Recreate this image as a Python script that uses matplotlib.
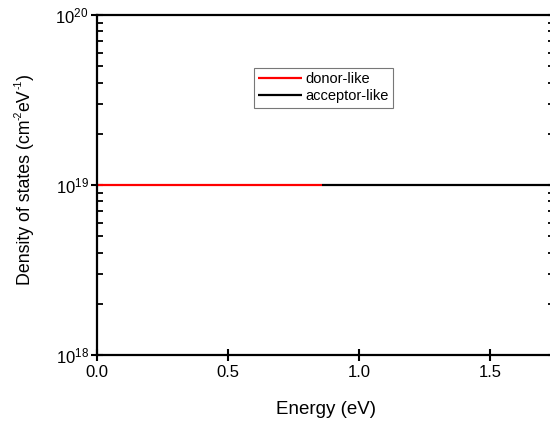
import matplotlib
matplotlib.use("Agg")
import matplotlib.pyplot as plt
from matplotlib.ticker import FixedLocator, LogLocator, NullFormatter, FuncFormatter
from matplotlib.transforms import IdentityTransform
import numpy as np

plt.rcParams['font.family'] = ['Liberation Sans', 'DejaVu Sans']
plt.rcParams['mathtext.fontset'] = 'custom'
plt.rcParams['mathtext.rm'] = 'Liberation Sans'
plt.rcParams['mathtext.it'] = 'Liberation Sans:italic'

# Trap density of states across the band gap
donor_energy = [0.0, 0.86]
donor_dos = [1e19, 1e19]
acceptor_energy = [0.86, 1.76]
acceptor_dos = [1e19, 1e19]

x_ticks = [0.0, 0.5, 1.0, 1.5]
x_tick_labels = ["0.0", "0.5", "1.0", "1.5"]
y_ticks = [1e18, 1e19, 1e20]

# y-axis title pieces: (text, is_superscript)
ylabel_parts = [("Density of states (cm", False), ("-2", True), ("eV", False),
                ("-1", True), (")", False)]

fig = plt.figure(figsize=(5.5, 4.26), dpi=100)
ax = fig.add_axes([97 / 550, 71 / 426, 457 / 550, 340 / 426])

ax.plot(donor_energy, donor_dos, color='#ff0000', lw=1.6, label='donor-like', solid_capstyle='butt')
ax.plot(acceptor_energy, acceptor_dos, color='black', lw=1.6, label='acceptor-like', solid_capstyle='butt')

ax.set_yscale('log')
ax.set_ylim(1e18, 1e20)
ax.set_xlim(0.0, 1.745)


def decade_label(v, pos):
    exp = int(round(np.log10(v)))
    return r'$\mathregular{10^{%d}}$' % exp


ax.xaxis.set_major_locator(FixedLocator(x_ticks))
ax.set_xticklabels(x_tick_labels)
ax.yaxis.set_major_locator(FixedLocator(y_ticks))
ax.yaxis.set_major_formatter(FuncFormatter(decade_label))
ax.yaxis.set_minor_locator(LogLocator(base=10, subs=np.arange(2, 10)))
ax.yaxis.set_minor_formatter(NullFormatter())

for s in ax.spines.values():
    s.set_linewidth(1.6)

ax.tick_params(axis='both', which='major', direction='inout', length=9, width=1.5,
               labelsize=12, pad=3)
ax.tick_params(axis='y', which='major', pad=1.5)
ax.tick_params(axis='y', which='minor', direction='in', length=4, width=1.3)
ax.tick_params(axis='y', which='both', right=True)
ax.tick_params(axis='x', which='both', top=False)
ax.tick_params(axis='x', which='minor', bottom=False)

ax.set_xlabel('Energy (eV)', fontsize=13.5, labelpad=15)

# Rotated y title assembled piece by piece so the exponents stay small
renderer = fig.canvas.get_renderer()
base_size, sup_size = 12.8, 7.5
x_base, y_pos = 29.5, 426 - 285.0
for txt, sup in ylabel_parts:
    t = fig.text(x_base - (7.5 if sup else 0.0), y_pos, txt,
                 transform=IdentityTransform(), rotation=90, rotation_mode='anchor',
                 ha='left', va='baseline', fontsize=sup_size if sup else base_size)
    y_pos += t.get_window_extent(renderer).height - (0.5 if sup else 0.0)

leg = ax.legend(loc='upper left', bbox_to_anchor=(0.3435, 0.844), borderaxespad=0,
                fontsize=10.5, frameon=True, fancybox=False, handlelength=3.0,
                handletextpad=0.2, borderpad=0.3, labelspacing=0.2)
leg.get_frame().set_edgecolor('#555555')
leg.get_frame().set_linewidth(0.8)

fig.savefig('out.png', dpi=100)
